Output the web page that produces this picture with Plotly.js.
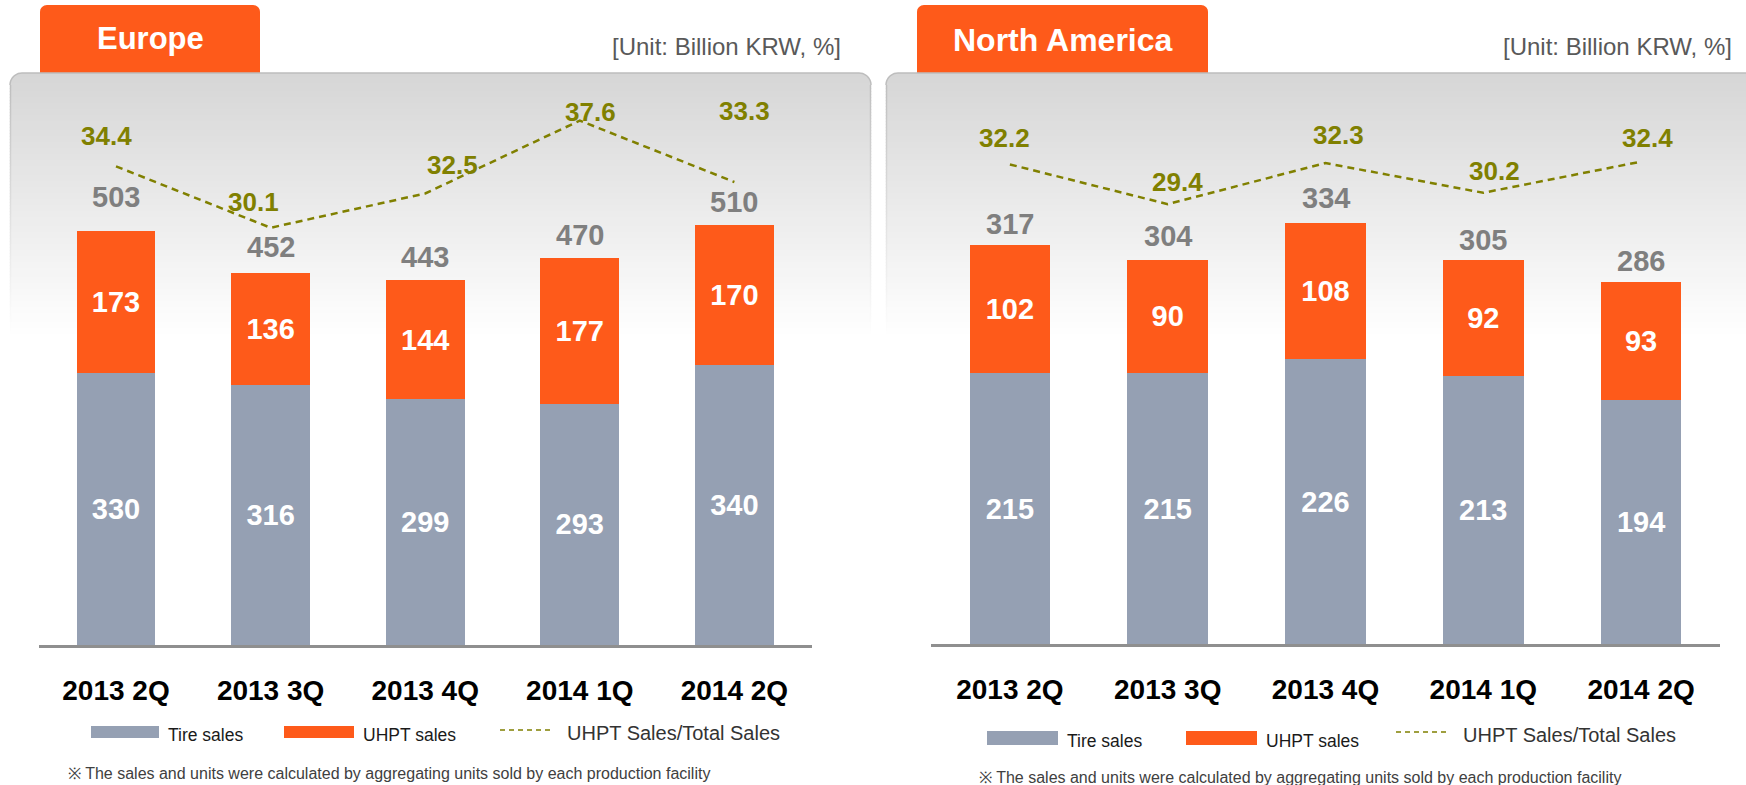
<!DOCTYPE html>
<html><head><meta charset="utf-8">
<script src="https://cdn.plot.ly/plotly-3.0.1.min.js"></script>
<style>html,body{margin:0;padding:0;background:#fff;overflow:hidden;} #chart{width:1746px;height:785px;}</style>
</head><body><div id="chart"></div>
<script>
// ---------------- data ----------------
const quarters = ['2013 2Q', '2013 3Q', '2013 4Q', '2014 1Q', '2014 2Q'];
const euTire  = [330, 316, 299, 293, 340];
const euUhpt  = [173, 136, 144, 177, 170];
const euTotal = [503, 452, 443, 470, 510];
const euRatio = [34.4, 30.1, 32.5, 37.6, 33.3];
const naTire  = [215, 215, 226, 213, 194];
const naUhpt  = [102, 90, 108, 92, 93];
const naTotal = [317, 304, 334, 305, 286];
const naRatio = [32.2, 29.4, 32.3, 30.2, 32.4];
const panelTitles = ['Europe', 'North America'];
const unitText = '[Unit: Billion KRW, %]';
const legendNames = ['Tire sales', 'UHPT sales', 'UHPT Sales/Total Sales'];
const footnote = '※ The sales and units were calculated by aggregating units sold by each production facility';

// ---------------- styling ----------------
const W = 1746, H = 785;
const px = x => x / W, py = y => 1 - y / H;
const FONT = 'Liberation Sans, Arial, Helvetica, sans-serif';
const ORANGE = '#fe5a1a', GRAY = '#95a0b3', OLIVE = '#808000', LABELGRAY = '#7f7f7f';

// label offsets (pixels) for ratio labels and total labels
const euRatioShift = [[-10, 30], [-17, 26], [27, 28], [11, 9], [10, 71]];
const naRatioShift = [[-5, 26], [10, 22], [13, 28], [11, 22], [6, 24]];
const euTotalShift = [34, 26, 23, 23, 23];
const naTotalShift = [21, 25, 25, 20, 23];

function barTrace(y, color, xa, ya, name) {
  return {
    type: 'bar', x: quarters, y: y, xaxis: xa, yaxis: ya, name: name,
    marker: {color: color, line: {width: 0}},
    texttemplate: '%{y}', textposition: 'inside', insidetextanchor: 'middle',
    constraintext: 'none', textangle: 0,
    textfont: {family: FONT, size: 29, color: '#ffffff', weight: 'bold'},
    hoverinfo: 'skip', showlegend: false, cliponaxis: false
  };
}
function lineTrace(y, xa, ya, name) {
  return {
    type: 'scatter', mode: 'lines', x: quarters, y: y, xaxis: xa, yaxis: ya, name: name,
    line: {color: OLIVE, width: 2.5, dash: '7px,5px'},
    hoverinfo: 'skip', showlegend: false, cliponaxis: false
  };
}

const data = [
  barTrace(euTire, GRAY, 'x', 'y', legendNames[0]),
  barTrace(euUhpt, ORANGE, 'x', 'y', legendNames[1]),
  lineTrace(euRatio, 'x', 'y2', legendNames[2]),
  barTrace(naTire, GRAY, 'x2', 'y3', legendNames[0]),
  barTrace(naUhpt, ORANGE, 'x2', 'y3', legendNames[1]),
  lineTrace(naRatio, 'x2', 'y4', legendNames[2])
];

// ---------------- decorations ----------------
const shapes = [];
function lerpColor(v) { const c = Math.round(v); return `rgb(${c},${c},${c})`; }

function panel(xl, xr, yt) {
  const r = 12, gEnd = 335, top = 214, step = 3;
  const inset = y => { const d = y - yt; if (d >= r) return 0; const k = r - d; return r - Math.sqrt(Math.max(0, r * r - k * k)); };
  for (let y0 = yt; y0 < gEnd; y0 += (y0 - yt < r ? 1 : step)) {
    const y1 = Math.min(gEnd, y0 + (y0 - yt < r ? 1 : step)) + 0.6;
    const t = (y0 - yt) / (gEnd - yt);
    const col = top + (255 - top) * t;
    const a = inset(y0), b = inset(Math.min(y1, yt + r));
    shapes.push({type: 'path', xref: 'paper', yref: 'paper', layer: 'below', line: {width: 0},
      fillcolor: lerpColor(col),
      path: `M${px(xl + a)},${py(y0)} L${px(xr - a)},${py(y0)} L${px(xr - b)},${py(y1)} L${px(xl + b)},${py(y1)} Z`});
    if (y0 - yt >= r) {
      const ec = lerpColor(Math.min(255, col - 26 * (1 - t)));
      shapes.push({type: 'line', xref: 'paper', yref: 'paper', layer: 'below',
        x0: px(xl + 0.5), x1: px(xl + 0.5), y0: py(y0), y1: py(y1), line: {color: ec, width: 1.5}});
      shapes.push({type: 'line', xref: 'paper', yref: 'paper', layer: 'below',
        x0: px(xr - 0.5), x1: px(xr - 0.5), y0: py(y0), y1: py(y1), line: {color: ec, width: 1.5}});
    }
  }
  const n = 10; let p = `M${px(xl)},${py(yt + r)}`;
  for (let i = 1; i <= n; i++) { const ang = Math.PI - (Math.PI / 2) * i / n; p += ` L${px(xl + r + r * Math.cos(ang))},${py(yt + r - r * Math.sin(ang))}`; }
  p += ` L${px(xr - r)},${py(yt)}`;
  for (let i = 1; i <= n; i++) { const ang = Math.PI / 2 - (Math.PI / 2) * i / n; p += ` L${px(xr - r + r * Math.cos(ang))},${py(yt + r - r * Math.sin(ang))}`; }
  shapes.push({type: 'path', xref: 'paper', yref: 'paper', layer: 'below', path: p, line: {color: '#bdbdbd', width: 1.5}, fillcolor: 'rgba(0,0,0,0)'});
}
function tab(xl, xr, yt, yb) {
  const r = 7, n = 8; let p = `M${px(xl)},${py(yb)} L${px(xl)},${py(yt + r)}`;
  for (let i = 1; i <= n; i++) { const ang = Math.PI - (Math.PI / 2) * i / n; p += ` L${px(xl + r + r * Math.cos(ang))},${py(yt + r - r * Math.sin(ang))}`; }
  p += ` L${px(xr - r)},${py(yt)}`;
  for (let i = 1; i <= n; i++) { const ang = Math.PI / 2 - (Math.PI / 2) * i / n; p += ` L${px(xr - r + r * Math.cos(ang))},${py(yt + r - r * Math.sin(ang))}`; }
  p += ` L${px(xr)},${py(yb)} Z`;
  shapes.push({type: 'path', xref: 'paper', yref: 'paper', layer: 'below', path: p, line: {width: 0}, fillcolor: ORANGE});
}
tab(40, 260, 5, 76);
tab(917, 1208, 5, 76);
panel(10, 871, 73);
panel(886, 1762, 73);

function rectPx(x0, x1, y0, y1, color) {
  shapes.push({type: 'rect', xref: 'paper', yref: 'paper', layer: 'above', x0: px(x0), x1: px(x1), y0: py(y1), y1: py(y0), line: {width: 0}, fillcolor: color});
}
function dashPx(x0, x1, y) {
  shapes.push({type: 'line', xref: 'paper', yref: 'paper', layer: 'above', x0: px(x0), x1: px(x1), y0: py(y), y1: py(y), line: {color: OLIVE, width: 1.5, dash: '5px,4px'}});
}
rectPx(91, 159, 726, 738, GRAY);
rectPx(284, 354, 726, 738, ORANGE);
dashPx(500, 552, 730);
rectPx(987, 1058, 731, 745, GRAY);
rectPx(1186, 1257, 731, 745, ORANGE);
dashPx(1396, 1447, 732);

// ---------------- annotations ----------------
const ann = [];
function textPx(x, y, text, size, color, xanchor, bold) {
  ann.push({xref: 'paper', yref: 'paper', x: px(x), y: py(y), text: text, showarrow: false,
    xanchor: xanchor, yanchor: 'middle',
    font: {family: FONT, size: size, color: color, weight: bold ? 'bold' : 'normal'}});
}
textPx(150, 39, panelTitles[0], 31, '#ffffff', 'center', true);
textPx(1063, 40, panelTitles[1], 32, '#ffffff', 'center', true);
textPx(843, 47, unitText, 24, '#595959', 'right', false);
textPx(1734, 47, unitText, 24, '#595959', 'right', false);
textPx(166, 735, legendNames[0], 17.5, '#1a1a1a', 'left', false);
textPx(361, 735, legendNames[1], 17.5, '#1a1a1a', 'left', false);
textPx(565, 733, legendNames[2], 20, '#333333', 'left', false);
textPx(1065, 741, legendNames[0], 17.5, '#1a1a1a', 'left', false);
textPx(1264, 741, legendNames[1], 17.5, '#1a1a1a', 'left', false);
textPx(1461, 735, legendNames[2], 20, '#333333', 'left', false);
textPx(66, 773, footnote, 16, '#404040', 'left', false);
textPx(977, 777, footnote, 16, '#404040', 'left', false);

function dataLabels(values, xa, ya, shifts, size, color, isPair, digits) {
  values.forEach((v, i) => {
    const s = shifts[i];
    ann.push({xref: xa, yref: ya, x: quarters[i], y: v, text: digits ? v.toFixed(digits) : String(v), showarrow: false,
      xanchor: 'center', yanchor: 'middle',
      xshift: isPair ? s[0] : 0, yshift: isPair ? s[1] : s,
      font: {family: FONT, size: size, color: color, weight: 'bold'}});
  });
}
dataLabels(euTotal, 'x', 'y', euTotalShift, 29, LABELGRAY, false, 0);
dataLabels(naTotal, 'x2', 'y3', naTotalShift, 29, LABELGRAY, false, 0);
dataLabels(euRatio, 'x', 'y2', euRatioShift, 26, OLIVE, true, 1);
dataLabels(naRatio, 'x2', 'y4', naRatioShift, 26, OLIVE, true, 1);

// ---------------- layout ----------------
const xCommon = {
  type: 'category', range: [-0.5, 4.5], showline: true, linecolor: '#8f8f8f', linewidth: 2.5,
  ticks: '', showgrid: false, zeroline: false, ticklabelstandoff: 19, fixedrange: true,
  tickfont: {family: FONT, size: 28, color: '#000000', weight: 'bold'}
};
const yHidden = {visible: false, showgrid: false, zeroline: false, fixedrange: true};

const layout = {
  width: W, height: H, margin: {l: 0, r: 0, t: 0, b: 0, pad: 0},
  paper_bgcolor: '#ffffff', plot_bgcolor: 'rgba(0,0,0,0)',
  barmode: 'stack', bargap: 0.49, showlegend: false,
  xaxis: Object.assign({}, xCommon, {domain: [38.7 / W, 811.7 / W], anchor: 'y'}),
  yaxis: Object.assign({}, yHidden, {domain: [py(645), py(80)], range: [0, 565 / 0.823], anchor: 'x'}),
  yaxis2: Object.assign({}, yHidden, {overlaying: 'y', anchor: 'x', range: [0.903, 40.44]}),
  xaxis2: Object.assign({}, xCommon, {domain: [931 / W, 1720 / W], anchor: 'y3'}),
  yaxis3: Object.assign({}, yHidden, {domain: [py(644), py(80)], range: [0, 564 / 1.26], anchor: 'x2'}),
  yaxis4: Object.assign({}, yHidden, {overlaying: 'y3', anchor: 'x2', range: [-1.644, 38.16]}),
  shapes: shapes, annotations: ann
};

Plotly.newPlot('chart', data, layout, {staticPlot: true, displayModeBar: false});
</script>
</body></html>
